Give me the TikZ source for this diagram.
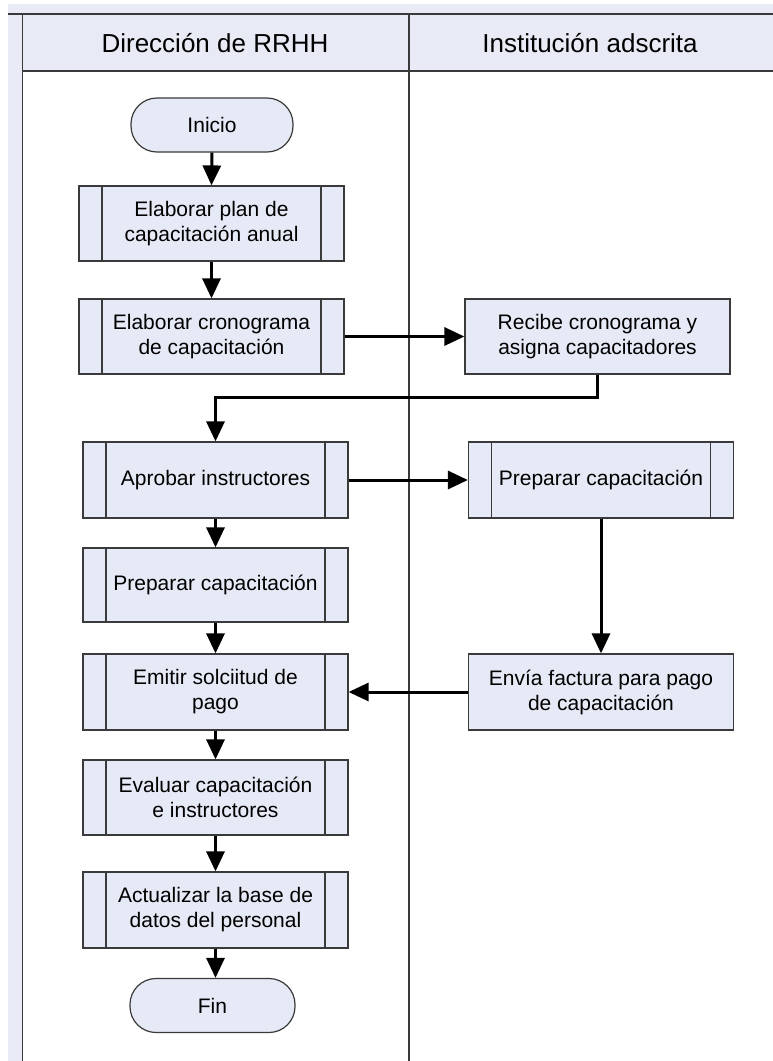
\documentclass[tikz,border=0pt]{standalone}
\usepackage{fontspec}
\setmainfont{Liberation Sans}
\usetikzlibrary{arrows.meta}
\definecolor{lanebg}{HTML}{E8EBF6}
\definecolor{boxfill}{HTML}{E6EAF6}
\definecolor{edge}{HTML}{3A3A3A}
\tikzset{
  procbox/.style={draw=edge, line width=1.2pt, fill=boxfill, minimum width=265pt, minimum height=75pt, inner sep=0pt, align=center, font=\fontsize{21}{25}\selectfont},
  predef/.style={procbox, path picture={
      \draw[edge, line width=1.2pt] ([xshift=23pt]path picture bounding box.north west) -- ([xshift=23pt]path picture bounding box.south west)
      ([xshift=-23pt]path picture bounding box.north east) -- ([xshift=-23pt]path picture bounding box.south east);}},
  termbox/.style={draw=edge, line width=1.2pt, fill=boxfill, rounded corners=26pt, minimum width=162pt, minimum height=54pt, inner sep=0pt, font=\fontsize{21}{25}\selectfont},
  lanetitle/.style={font=\fontsize{26}{30}\selectfont, inner sep=0pt},
  conn/.style={line width=3pt, black, -{Triangle[length=20pt,width=18pt]}},
  plainconn/.style={line width=3pt, black}
}
\begin{document}
\begin{tikzpicture}[x=1pt,y=-1pt]
\useasboundingbox (0,0) rectangle (773,1061);
% background and lanes
\fill[white] (0,0) rectangle (773,1061);
\fill[lanebg] (8,4) rectangle (773,1061);
\fill[white] (22.7,71) rectangle (773,1061);
\draw[edge, line width=2pt] (8,13.5) -- (773,13.5);
\draw[edge, line width=1.3pt] (22.7,13.5) -- (22.7,1061);
\draw[edge, line width=1.3pt] (409,13.5) -- (409,1061);
\draw[edge, line width=1.3pt] (22.7,71) -- (773,71);
\node[lanetitle] (lane1) at (215,43) {Dirección de RRHH};
\node[lanetitle] (lane2) at (590,43) {Institución adscrita};

% nodes
\node[termbox] (inicio) at (212,125) {Inicio};
\node[predef] (plan) at (211.5,223.5) {Elaborar plan de\\capacitación anual};
\node[predef] (crono) at (211.5,336.5) {Elaborar cronograma\\de capacitación};
\node[procbox] (recibe) at (597.5,336.5) {Recibe cronograma y\\asigna capacitadores};
\node[predef, minimum height=76pt] (aprobar) at (215.5,480) {Aprobar instructores};
\node[predef, minimum height=76pt] (prepR) at (601,480) {Preparar capacitación};
\node[predef, minimum height=74pt] (prepL) at (215.5,585) {Preparar capacitación};
\node[predef, minimum height=76pt] (emitir) at (215.5,692) {Emitir solciitud de\\pago};
\node[procbox, minimum height=76pt] (envia) at (601,692) {Envía factura para pago\\de capacitación};
\node[predef] (evaluar) at (215.5,797.5) {Evaluar capacitación\\e instructores};
\node[predef, minimum height=76pt] (actual) at (215.5,910) {Actualizar la base de\\datos del personal};
\node[termbox, minimum width=165pt] (fin) at (212.5,1005.5) {Fin};

% connectors
\draw[conn] (inicio.south) -- (plan.north);
\draw[conn] (plan.south) -- (crono.north);
\draw[conn] (crono.east) -- (recibe.west);
\draw[conn] (recibe.south) -- ++(0,23) -| (aprobar.north);
\draw[conn] (aprobar.east) -- (prepR.west);
\draw[conn] (aprobar.south) -- (prepL.north);
\draw[conn] (prepR.south) -- (envia.north);
\draw[conn] (prepL.south) -- (emitir.north);
\draw[conn] (envia.west) -- (emitir.east);
\draw[conn] (emitir.south) -- (evaluar.north);
\draw[conn] (evaluar.south) -- (actual.north);
\draw[conn] (actual.south) -- (actual.south |- fin.north);
\end{tikzpicture}
\end{document}
